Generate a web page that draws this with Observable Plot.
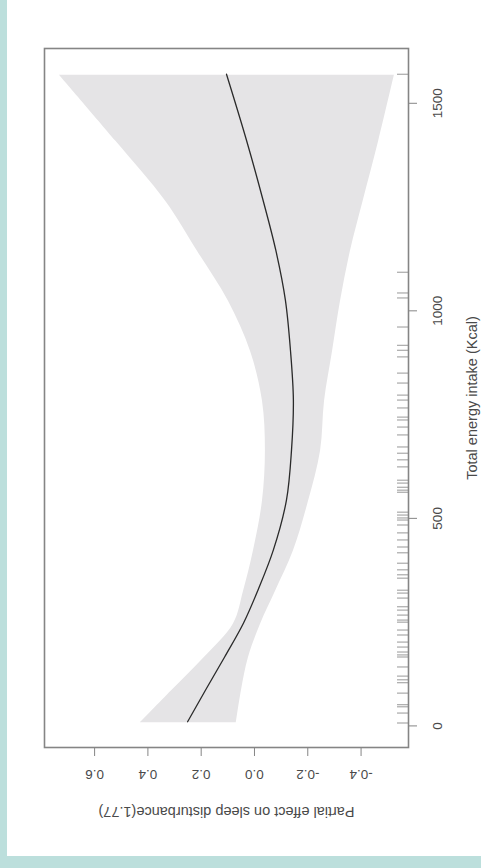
<!DOCTYPE html>
<html>
<head>
<meta charset="utf-8">
<script src="https://cdn.jsdelivr.net/npm/d3@7"></script>
<script src="https://cdn.jsdelivr.net/npm/@observablehq/plot@0.6"></script>
<style>
  html, body { margin: 0; padding: 0; background: #bcdfdc; width: 481px; height: 868px; overflow: hidden; }
  #panel { position: absolute; left: 7px; top: 0; width: 474px; height: 856px; background: #ffffff; }
  #chart { position: absolute; left: -184px; top: 191px; width: 856px; height: 474px; transform: rotate(-90deg); transform-origin: 50% 50%; }
  #chart svg { display: block; }
</style>
</head>
<body>
<div id="panel"></div>
<div id="chart"></div>
<script>
// Smooth term estimate and its confidence band
const energy = [10, 87, 166, 248, 327, 424, 544, 665, 785, 905, 1026, 1146, 1267, 1411, 1570];
const fit    = [0.251, 0.183, 0.112, 0.041, -0.013, -0.071, -0.120, -0.139, -0.146, -0.135, -0.116, -0.080, -0.032, 0.030, 0.105];
const upper  = [0.428, 0.311, 0.190, 0.079, 0.041, 0.004, -0.030, -0.041, -0.030, 0.015, 0.098, 0.214, 0.334, 0.520, 0.732];
const lower  = [0.068, 0.049, 0.023, -0.023, -0.079, -0.146, -0.203, -0.248, -0.263, -0.293, -0.323, -0.360, -0.408, -0.466, -0.525];

// Rug of observed total energy intake values
const rug = [7, 31, 46, 51, 79, 104, 111, 120, 142, 166, 171, 178, 190, 202, 219, 231, 250, 255, 267, 279, 287,
  308, 320, 327, 356, 364, 376, 392, 417, 431, 448, 465, 484, 496, 501, 508, 515, 563, 568, 575, 585, 592,
  624, 641, 657, 672, 701, 720, 737, 744, 766, 785, 797, 826, 850, 889, 905, 917, 961, 1031, 1043, 1093, 1570];

const xDomain = [-52, 1632];
const yDomain = [-0.578, 0.788];
const xTicks = [0, 500, 1000, 1500];
const yTicks = [-0.4, -0.2, 0.0, 0.2, 0.4, 0.6];
const yTickLabels = ["-0.4", "-0.2", "0.0", "0.2", "0.4", "0.6"];
const xLabel = "Total energy intake (Kcal)";
const yLabel = "Partial effect on sleep disturbance(1.77)";

const curve = energy.map((e, i) => ({energy: e, fit: fit[i], upper: upper[i], lower: lower[i]}));

const plot = Plot.plot({
  width: 856,
  height: 474,
  marginLeft: 108,
  marginRight: 49,
  marginTop: 37,
  marginBottom: 73,
  x: {domain: xDomain},
  y: {domain: yDomain},
  style: {fontFamily: "'Liberation Sans', Arial, sans-serif", fontSize: "13.5px", color: "#4a4a4a", background: "transparent"},
  marks: [
    Plot.areaY(curve, {x: "energy", y1: "lower", y2: "upper", fill: "#e5e4e6", curve: "catmull-rom"}),
    Plot.line(curve, {x: "energy", y: "fit", stroke: "#2a2a2a", strokeWidth: 1.3, curve: "catmull-rom"}),
    Plot.ruleX(rug, {x: d => d, insetTop: 353, stroke: "#444", strokeOpacity: 0.55, strokeWidth: 1}),
    Plot.frame({stroke: "#858585", strokeWidth: 1.6}),
    Plot.axisX({ticks: xTicks, tickSize: 9, tickPadding: 15, label: null, stroke: "#858585", fill: "#4a4a4a", tickFormat: d => String(d)}),
    Plot.axisY({ticks: yTicks, tickSize: 8, tickPadding: 14, tickRotate: -90, label: null, stroke: "#858585", fill: "#4a4a4a",
      tickFormat: d => yTickLabels[yTicks.indexOf(d)]}),
    Plot.text([xLabel], {text: d => d, frameAnchor: "bottom", dy: 68, fontSize: 14.5, fill: "#4a4a4a"}),
    Plot.text([yLabel], {text: d => d, frameAnchor: "left", dx: -64, rotate: -90, textAnchor: "middle", fontSize: 14.5, fill: "#4a4a4a"})
  ]
});
document.getElementById("chart").appendChild(plot);
</script>
</body>
</html>
